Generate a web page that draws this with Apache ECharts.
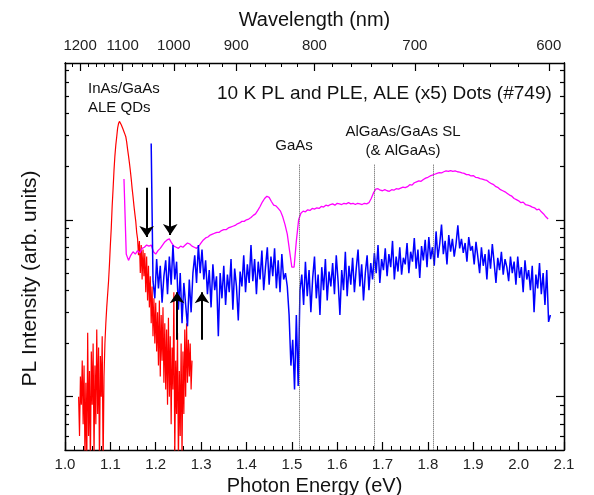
<!DOCTYPE html>
<html lang="en">
  <head>
    <meta charset="UTF-8" />
    <title>10 K PL and PLE</title>
    <script src="https://cdn.jsdelivr.net/npm/echarts@6/dist/echarts.min.js"></script>
    <style>
      html, body { margin: 0; padding: 0; background: #fff; }
      #main { width: 594px; height: 495px; }
    </style>
  </head>
  <body>
    <div id="main"></div>
  </body>
  <script>
    // QD photoluminescence (red), sampled every 2 meV from 1.030 eV
    var plStart = 1.03, plStep = 0.002;
    var plValues = [
      1.0, 0.6, 1.3, 0.9, 1.6, 0.7, 1.5, 0.45, 1.2, 0.4,
      2.3, 0.6, 1.4, 0.4, 1.8, 0.9, 2.0, 0.45, 1.5, 0.7,
      2.4, 0.8, 1.9, 0.4, 1.7, 1.0, 2.2, 0.4, 1.3, 2.0,
      2.6, 3.2, 3.8, 4.5, 5.6, 7.2, 9.0, 12, 15, 19,
      23, 26.5, 29.5, 33, 35, 36, 35.5, 34.5, 33.5, 32.5,
      31.5, 30.5, 29.5, 27.5, 25, 23, 21, 19, 17, 15,
      13.5, 12, 10.8, 9.8, 8.5, 7.8, 6.3, 7.6, 5.0, 7.2,
      4.6, 6.8, 4.8, 6.5, 3.9, 6.2, 3.5, 5.5, 3.2, 4.8,
      2.6, 4.2, 2.2, 3.6, 2.0, 3.4, 1.8, 3.0, 1.5, 3.5,
      1.3, 2.9, 1.6, 3.2, 1.2, 2.6, 1.1, 2.4, 0.9, 2.8,
      1.0, 2.2, 0.7, 1.9, 1.1, 3.9, 0.45, 1.6, 0.8, 2.3,
      0.4, 1.4, 0.6, 2.0, 0.45, 1.8, 0.8, 2.4, 1.0, 2.6,
      1.2, 2.1, 1.3, 2.0, 1.1, 1.6
    ];

    // PLE (magenta), every 5 meV from 1.130 eV
    var pleStart = 1.13, pleStep = 0.005;
    var pleValues = [
      17, 6.4, 5.9, 6.3, 6.6, 6.4, 6.7, 6.5, 6.9, 7.0,
      7.2, 7.1, 7.2, 6.6, 6.4, 6.7, 6.9, 7.2, 7.5, 7.7,
      7.8, 7.4, 7.1, 7.0, 6.9, 7.1, 7.0, 7.2, 7.4, 7.3,
      7.1, 7.0, 6.9, 7.1, 7.4, 7.7, 7.9, 8.0, 8.2, 8.3,
      8.4, 8.5, 8.5, 8.7, 8.8, 8.8, 9.0, 9.1, 9.2, 9.3,
      9.5, 9.6, 9.8, 9.8, 10.0, 10.1, 10.3, 10.6, 10.8, 11.3,
      11.9, 12.6, 13.2, 13.6, 13.4, 12.7, 12.1, 12.0, 11.6, 11.2,
      10.4, 9.4, 8.3, 6.7, 5.4, 5.4, 7.6, 10.0, 10.9, 11.2,
      11.1, 11.4, 11.3, 11.6, 11.5, 11.7, 11.6, 11.9, 11.8, 12.1,
      12.0, 12.2, 12.3, 12.1, 12.4, 12.3, 12.2, 12.4, 12.3, 12.5,
      12.3, 12.4, 12.2, 12.4, 12.3, 12.2, 12.4, 12.3, 12.5, 13.2,
      14.2, 14.9, 15.0, 14.7, 14.6, 14.8, 14.6, 14.5, 14.8, 14.7,
      15.0, 14.9, 15.1, 15.3, 15.2, 15.4, 15.8, 15.7, 16.2, 16.4,
      16.6, 16.5, 16.9, 17.2, 17.4, 17.7, 17.9, 18.1, 18.3, 18.5,
      18.4, 18.7, 18.9, 18.8, 19.0, 18.8, 18.9, 18.7, 18.6, 18.4,
      18.3, 18.0, 18.0, 17.7, 17.8, 17.4, 17.3, 17.1, 17.0, 16.8,
      16.7, 16.3, 16.0, 15.8, 15.4, 15.2, 14.8, 14.6, 14.4, 14.1,
      13.8, 13.6, 13.2, 13.0, 12.8, 12.5, 12.6, 12.2, 12.1, 12.0,
      11.8, 11.7, 11.4, 11.5, 11.1, 10.8, 10.4, 10.1
    ];

    // PLE (blue), every 4 meV from 1.190 eV
    var pleBStart = 1.19, pleBStep = 0.004;
    var pleBValues = [
      27, 4.5, 3.6, 6.0, 4.1, 5.5, 3.4, 4.8, 5.9, 3.8,
      6.2, 4.3, 7.2, 4.6, 5.8, 3.1, 5.0, 2.6, 4.4, 3.3,
      2.5, 4.6, 3.0, 5.0, 6.3, 4.4, 7.2, 5.0, 6.8, 4.6,
      5.9, 3.8, 5.2, 3.2, 5.6, 4.0, 4.8, 2.2, 5.0, 3.6,
      5.5, 3.3, 4.9, 3.9, 6.0, 3.1, 5.3, 4.2, 2.7, 5.1,
      4.2, 6.3, 3.9, 5.6, 4.4, 7.2, 4.5, 6.0, 3.8, 5.8,
      4.6, 6.7, 4.0, 5.4, 7.0, 4.3, 6.2, 4.8, 6.9, 4.1,
      5.9, 3.9, 6.4, 4.6, 5.0, 4.2, 2.9, 1.5, 2.1, 1.1,
      2.9, 1.15, 4.0, 4.9, 3.3, 5.8, 3.7, 5.2, 3.0, 4.7,
      6.2, 3.6, 4.9, 2.9, 5.4, 4.0, 6.0, 3.5, 5.1, 4.2,
      5.7, 3.8, 6.3, 4.5, 2.9, 5.2, 4.0, 6.6, 3.7, 5.5,
      4.3, 6.1, 3.9, 5.3, 6.8, 4.2, 5.6, 3.5, 5.0, 6.3,
      4.0, 5.7, 4.6, 6.5, 5.0, 7.2, 4.4, 6.0, 5.2, 6.9,
      4.8, 6.4, 5.4, 7.6, 4.6, 6.2, 5.1, 7.0, 4.9, 6.1,
      5.6, 7.4, 5.0, 6.6, 5.8, 7.9, 5.3, 6.8, 4.7, 7.1,
      5.9, 7.7, 5.4, 8.0, 6.0, 7.0, 5.5, 8.6, 6.1, 7.3,
      9.4, 6.4, 7.6, 5.6, 8.2, 6.6, 7.8, 6.2, 7.3, 9.3,
      6.9, 7.8, 6.5, 7.4, 5.8, 8.0, 6.7, 7.1, 5.6, 7.5,
      6.2, 5.0, 7.0, 5.5, 6.4, 4.6, 6.8, 5.3, 7.3, 5.7,
      4.4, 6.1, 5.2, 6.6, 4.9, 6.0, 5.4, 4.5, 6.2, 5.0,
      5.8, 4.3, 6.2, 4.7, 5.4, 3.9, 5.9, 4.6, 5.2, 4.0,
      5.5, 3.0, 4.9, 4.1, 5.7, 3.8, 5.0, 3.3, 5.2, 2.65,
      2.9
    ];

    // axes
    var wavelengthTicks = [1200, 1100, 1000, 900, 800, 700, 600];
    var wavelengthMinorStep = 20;
    var intensityMajor = [1, 10];
    var intensityMinor = [0.6, 0.7, 0.8, 0.9, 2, 3, 4, 5, 6, 7, 8, 9, 20, 30, 40, 50, 60, 70];

    // annotations
    var featureLines = [1.516, 1.682, 1.812];
    var featureTop = 20.5;
    var arrowsDown = [[1.18, 15.2, 8.0], [1.232, 15.4, 8.2]];
    var arrowsUp = [[1.247, 2.1, 3.9], [1.302, 2.1, 3.9]];

    var HC = 1239.84;
    function toPairs(start, step, vals) {
      return vals.map(function (v, i) {
        return [+(start + i * step).toFixed(4), v];
      });
    }
    var wlMajorE = wavelengthTicks.map(function (w) { return HC / w; });
    var wlMinorE = [];
    for (var w = 1240; w >= 600; w -= wavelengthMinorStep) {
      if (w % 100 !== 0 && HC / w <= 2.1) wlMinorE.push(HC / w);
    }

    var FONT = "Liberation Sans, Arial, sans-serif";
    var black = "#000";

    var chart = echarts.init(document.getElementById("main"), null, { renderer: "canvas" });

    function yAx(pos, ticks, len, withName) {
      var a = {
        type: "log",
        logBase: 10,
        position: pos,
        min: 0.5,
        max: 77,
        axisLine: { show: true, lineStyle: { color: black, width: 1.3 } },
        axisTick: { show: true, inside: true, length: len, customValues: ticks, lineStyle: { color: black, width: 1.2 } },
        axisLabel: { show: false },
        splitLine: { show: false },
        minorTick: { show: false }
      };
      if (withName) {
        a.name = "PL Intensity (arb. units)";
        a.nameLocation = "middle";
        a.nameGap = 24;
        // extra right padding pushes the rotated title a little below centre
        a.nameTextStyle = { fontFamily: FONT, fontSize: 21, color: "#111", padding: [0, 44, 0, 0] };
      }
      return a;
    }

    var option = {
      animation: false,
      backgroundColor: "#fff",
      grid: { left: 65, right: 30, top: 63, bottom: 45, containLabel: false, outerBoundsMode: "none" },
      xAxis: [
        {
          type: "value",
          position: "bottom",
          min: 1.0,
          max: 2.1,
          interval: 0.1,
          name: "Photon Energy (eV)",
          nameLocation: "middle",
          nameGap: 25,
          nameTextStyle: { fontFamily: FONT, fontSize: 20, color: "#111" },
          axisLine: { lineStyle: { color: black, width: 1.3 } },
          axisTick: { inside: true, length: 8, lineStyle: { color: black, width: 1.2 } },
          minorTick: { show: true, splitNumber: 5, length: 4, lineStyle: { color: black, width: 1 } },
          axisLabel: {
            fontFamily: FONT, fontSize: 15, color: "#222", margin: 7,
            formatter: function (v) { return v.toFixed(1); }
          },
          splitLine: { show: false }
        },
        {
          type: "value",
          position: "top",
          min: 1.0,
          max: 2.1,
          name: "Wavelength (nm)",
          nameLocation: "middle",
          nameGap: 33,
          nameTextStyle: { fontFamily: FONT, fontSize: 20, color: "#111" },
          axisLine: { lineStyle: { color: black, width: 1.3 } },
          axisTick: { inside: true, length: 8, customValues: wlMajorE, lineStyle: { color: black, width: 1.2 } },
          axisLabel: {
            fontFamily: FONT, fontSize: 15, color: "#222", margin: 10,
            customValues: wlMajorE,
            formatter: function (v) { return String(Math.round(HC / v)); }
          },
          splitLine: { show: false }
        },
        {
          type: "value",
          position: "top",
          min: 1.0,
          max: 2.1,
          axisLine: { show: false },
          axisTick: { inside: true, length: 4, customValues: wlMinorE, lineStyle: { color: black, width: 1 } },
          axisLabel: { show: false },
          splitLine: { show: false }
        }
      ],
      yAxis: [
        yAx("left", intensityMajor, 8, true),
        yAx("left", intensityMinor, 4, false),
        yAx("right", intensityMajor, 8, false),
        yAx("right", intensityMinor, 4, false)
      ],
      graphic: [
        { type: "text", left: 88, top: 81, style: { text: "InAs/GaAs", font: "15px " + FONT, fill: "#111" } },
        { type: "text", left: 88, top: 100, style: { text: "ALE QDs", font: "15px " + FONT, fill: "#111" } },
        { type: "text", left: 217, top: 84, style: { text: "10 K PL and PLE, ALE (x5) Dots (#749)", font: "19px " + FONT, fill: "#111" } },
        { type: "text", x: 294, y: 146, style: { text: "GaAs", font: "15px " + FONT, fill: "#111", align: "center", verticalAlign: "middle" } },
        { type: "text", x: 403, y: 132, style: { text: "AlGaAs/GaAs SL", font: "15px " + FONT, fill: "#111", align: "center", verticalAlign: "middle" } },
        { type: "text", x: 403, y: 151, style: { text: "(& AlGaAs)", font: "15px " + FONT, fill: "#111", align: "center", verticalAlign: "middle" } }
      ],
      series: [
        {
          name: "QD PL",
          type: "line",
          xAxisIndex: 0,
          yAxisIndex: 0,
          data: toPairs(plStart, plStep, plValues),
          showSymbol: false,
          lineStyle: { color: "#ff0000", width: 1.2 },
          itemStyle: { color: "#ff0000" },
          silent: true,
          clip: true
        },
        {
          name: "PLE",
          type: "line",
          xAxisIndex: 0,
          yAxisIndex: 0,
          data: toPairs(pleStart, pleStep, pleValues),
          showSymbol: false,
          lineStyle: { color: "#ff00ff", width: 1.3 },
          itemStyle: { color: "#ff00ff" },
          silent: true,
          clip: true,
          markLine: {
            silent: true,
            symbol: ["none", "none"],
            label: { show: false },
            lineStyle: { color: "#555", type: "dotted", width: 1 },
            data: featureLines.map(function (e) {
              return [{ coord: [e, featureTop] }, { coord: [e, 0.5] }];
            })
          }
        },
        {
          name: "PLE x5",
          type: "line",
          xAxisIndex: 0,
          yAxisIndex: 0,
          data: toPairs(pleBStart, pleBStep, pleBValues),
          showSymbol: false,
          lineStyle: { color: "#0000ff", width: 1.5 },
          itemStyle: { color: "#0000ff" },
          silent: true,
          clip: true,
          markLine: {
            silent: true,
            symbol: ["none", "arrow"],
            symbolSize: 11,
            label: { show: false },
            lineStyle: { color: black, type: "solid", width: 2 },
            data: arrowsDown.concat(arrowsUp).map(function (a) {
              return [{ coord: [a[0], a[1]] }, { coord: [a[0], a[2]] }];
            })
          }
        }
      ]
    };
    chart.setOption(option);
  </script>
</html>
